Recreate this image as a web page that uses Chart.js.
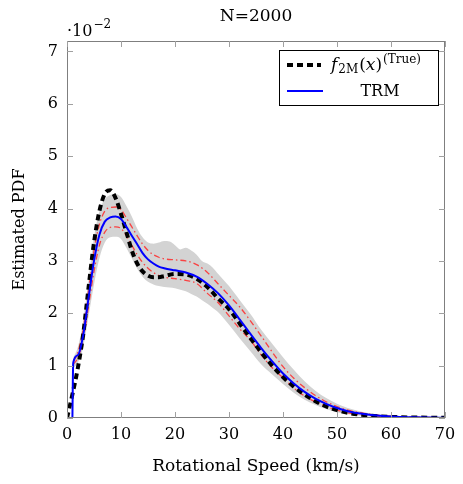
<!DOCTYPE html>
<html>
<head>
<meta charset="utf-8">
<script src="https://cdn.jsdelivr.net/npm/chart.js@4/dist/chart.umd.min.js"></script>
<style>
html,body{margin:0;padding:0;background:#fff;}
#wrap{width:463px;height:484px;}
</style>
</head>
<body>
<div id="wrap"><canvas id="c" width="463" height="484"></canvas></div>
<script>
// ---- Data (values in units of 10^-2) ----
const chartTitle = "N=2000";
const xTitle = "Rotational Speed (km/s)";
const yTitle = "Estimated PDF";
const xTicks = [0, 10, 20, 30, 40, 50, 60, 70];
const yTicks = [0, 1, 2, 3, 4, 5, 6, 7];

const xTrue = [0,1,2,3,4,5,6,7,8,9,10,11,12,13,14,15,16,17,18,20,22,24,26,28,30,32,34,36,38,40,42,44,46,48,50,52,55,58,61,64,67,70];
const yTrue = [0,0.45,0.95,1.6,2.5,3.35,3.95,4.28,4.35,4.2,3.9,3.55,3.2,2.95,2.8,2.72,2.69,2.69,2.71,2.75,2.74,2.66,2.5,2.28,2.08,1.8,1.52,1.25,1.0,0.78,0.6,0.45,0.32,0.22,0.15,0.1,0.055,0.03,0.017,0.01,0.006,0.004];

const xTRM = [1,1.15,2,3,4,5,6,7,8,9,10,11,12,13,14,15,16,17,18,20,22,24,26,28,30,32,34,36,38,40,42,44,46,48,50,52,55,58,61,64,67,70];
const yTRM = [0,1.05,1.2,1.58,2.3,3.0,3.5,3.75,3.83,3.85,3.8,3.65,3.48,3.32,3.15,3.03,2.95,2.89,2.86,2.82,2.78,2.7,2.56,2.38,2.15,1.88,1.6,1.33,1.08,0.85,0.66,0.5,0.37,0.27,0.19,0.13,0.075,0.042,0.024,0.014,0.009,0.006];

const xCI = [1.15,2,3,4,5,6,7,8,9,10,11,12,13,14,15,16,17,18,20,22,24,26,28,30,32,34,36,38,40,42,44,46,48,50,52,55,58,61,64,67,70];
const yCIUpper = [1.08,1.25,1.7,2.45,3.2,3.7,3.95,4.02,4.03,3.98,3.82,3.65,3.48,3.32,3.2,3.12,3.07,3.04,3.02,3.0,2.93,2.78,2.56,2.34,2.12,1.85,1.56,1.26,0.98,0.76,0.58,0.43,0.31,0.22,0.15,0.09,0.05,0.03,0.018,0.01,0.007];
const yCILower = [1.02,1.15,1.5,2.15,2.8,3.3,3.55,3.64,3.65,3.62,3.48,3.3,3.12,2.97,2.86,2.78,2.72,2.69,2.66,2.63,2.57,2.38,2.2,1.95,1.7,1.48,1.2,0.96,0.77,0.57,0.42,0.31,0.22,0.15,0.1,0.055,0.03,0.017,0.01,0.006,0.004];

const xBand = [1.15,2,3,4,5,6,7,8,9,10,11,12,13,14,15,16,17,18,19,20,21,22,23,24,25,26,27,28,30,32,34,36,38,40,42,44,46,48,50,52,55,58,61,64,67,70];
const yBandUpper = [1.15,1.35,1.85,2.65,3.45,3.95,4.18,4.26,4.28,4.22,4.05,3.85,3.62,3.45,3.35,3.33,3.35,3.38,3.37,3.3,3.22,3.25,3.2,3.12,3.0,2.95,2.87,2.75,2.52,2.25,1.98,1.68,1.42,1.16,0.92,0.7,0.52,0.38,0.27,0.19,0.11,0.06,0.035,0.02,0.012,0.008];
const yBandLower = [0.95,1.05,1.35,1.95,2.55,3.05,3.35,3.45,3.46,3.42,3.25,3.05,2.85,2.7,2.6,2.55,2.52,2.5,2.49,2.48,2.45,2.42,2.37,2.32,2.25,2.18,2.1,2.02,1.78,1.52,1.27,1.02,0.83,0.65,0.48,0.35,0.25,0.17,0.11,0.07,0.035,0.018,0.01,0.005,0.003,0.002];

const pts = (xs, ys) => xs.map((x, i) => ({x: x, y: ys[i]}));

const SERIF = "'DejaVu Serif', 'Liberation Serif', serif";

const decor = {
  id: 'decor',
  afterDraw(chart) {
    const ctx = chart.ctx;
    const a = chart.chartArea;
    const xs = chart.scales.x, ys = chart.scales.y;
    ctx.save();
    // frame
    ctx.strokeStyle = '#7f7f7f';
    ctx.lineWidth = 1;
    ctx.strokeRect(Math.round(a.left) + 0.5, Math.round(a.top) + 0.5, Math.round(a.right - a.left) - 1, Math.round(a.bottom - a.top) - 1);
    // inner ticks
    ctx.strokeStyle = '#a0a0a0';
    ctx.beginPath();
    xTicks.forEach(v => {
      const px = Math.round(xs.getPixelForValue(v)) + 0.5;
      ctx.moveTo(px, a.bottom); ctx.lineTo(px, a.bottom - 6);
      ctx.moveTo(px, a.top); ctx.lineTo(px, a.top + 6);
    });
    yTicks.forEach(v => {
      const py = Math.round(ys.getPixelForValue(v)) + 0.5;
      ctx.moveTo(a.left, py); ctx.lineTo(a.left + 6, py);
      ctx.moveTo(a.right, py); ctx.lineTo(a.right - 6, py);
    });
    ctx.stroke();

    ctx.fillStyle = '#000';
    // title
    ctx.font = '17px ' + SERIF;
    ctx.textAlign = 'center';
    ctx.textBaseline = 'alphabetic';
    ctx.fillText(chartTitle, (a.left + a.right) / 2, 21);
    // x title
    ctx.font = '17px ' + SERIF;
    ctx.fillText(xTitle, (a.left + a.right) / 2, 471);
    // y title
    ctx.save();
    ctx.translate(24, (a.top + a.bottom) / 2);
    ctx.rotate(-Math.PI / 2);
    ctx.font = '16px ' + SERIF;
    ctx.fillText(yTitle, 0, 0);
    ctx.restore();
    // exponent
    ctx.textAlign = 'left';
    ctx.font = '16px ' + SERIF;
    ctx.fillText('\u00B710', 67, 36);
    const w10 = ctx.measureText('\u00B710').width;
    ctx.font = '12px ' + SERIF;
    ctx.fillText('\u22122', 67 + w10 + 1, 28);

    // legend
    const L = {x: 279, y: 50, w: 159, h: 55};
    ctx.fillStyle = '#fff';
    ctx.fillRect(L.x, L.y, L.w, L.h);
    ctx.strokeStyle = '#000';
    ctx.lineWidth = 1;
    ctx.strokeRect(L.x + 0.5, L.y + 0.5, L.w, L.h);
    // black dashed sample
    ctx.beginPath();
    ctx.setLineDash([6, 4]);
    ctx.lineWidth = 4;
    ctx.strokeStyle = '#000';
    ctx.moveTo(287, 65); ctx.lineTo(321, 65);
    ctx.stroke();
    ctx.setLineDash([]);
    // blue sample
    ctx.beginPath();
    ctx.lineWidth = 2;
    ctx.strokeStyle = '#0000ff';
    ctx.moveTo(287, 91); ctx.lineTo(323, 91);
    ctx.stroke();
    // legend text 1: f_{2M}(x)^{(True)}
    ctx.fillStyle = '#000';
    let x = 331;
    const base = 70;
    ctx.font = 'italic 17px ' + SERIF;
    ctx.fillText('f', x, base); x += ctx.measureText('f').width + 1;
    ctx.font = '12px ' + SERIF;
    ctx.fillText('2M', x, base + 3); x += ctx.measureText('2M').width + 1;
    ctx.font = '17px ' + SERIF;
    ctx.fillText('(', x, base); x += ctx.measureText('(').width;
    ctx.font = 'italic 17px ' + SERIF;
    ctx.fillText('x', x, base); x += ctx.measureText('x').width;
    ctx.font = '17px ' + SERIF;
    ctx.fillText(')', x, base); x += ctx.measureText(')').width + 1;
    ctx.font = '12px ' + SERIF;
    ctx.fillText('(True)', x, base - 7);
    // legend text 2
    ctx.font = '16px ' + SERIF;
    ctx.textAlign = 'center';
    ctx.fillText('TRM', 380, 96);
    ctx.restore();
  }
};

new Chart(document.getElementById('c'), {
  type: 'line',
  data: {
    datasets: [
      {
        label: 'TRM', data: pts(xTRM, yTRM), order: 0,
        borderColor: '#0000ff', borderWidth: 2, pointRadius: 0,
        cubicInterpolationMode: 'monotone', fill: false
      },
      {
        label: 'True', data: pts(xTrue, yTrue), order: 1,
        borderColor: '#000000', borderWidth: 4, borderDash: [6, 4], borderCapStyle: 'butt',
        pointRadius: 0, cubicInterpolationMode: 'monotone', fill: false
      },
      {
        label: 'CI upper', data: pts(xCI, yCIUpper), order: 2,
        borderColor: 'rgba(255,40,40,0.85)', borderWidth: 1.3, borderDash: [6, 3, 1.5, 3],
        pointRadius: 0, cubicInterpolationMode: 'monotone', fill: false
      },
      {
        label: 'CI lower', data: pts(xCI, yCILower), order: 2,
        borderColor: 'rgba(255,40,40,0.85)', borderWidth: 1.3, borderDash: [6, 3, 1.5, 3],
        pointRadius: 0, cubicInterpolationMode: 'monotone', fill: false
      },
      {
        label: 'Band upper', data: pts(xBand, yBandUpper), order: 3,
        borderColor: 'rgba(0,0,0,0)', borderWidth: 0, backgroundColor: '#d3d3d3',
        pointRadius: 0, cubicInterpolationMode: 'monotone', fill: '+1'
      },
      {
        label: 'Band lower', data: pts(xBand, yBandLower), order: 4,
        borderColor: 'rgba(0,0,0,0)', borderWidth: 0,
        pointRadius: 0, cubicInterpolationMode: 'monotone', fill: false
      }
    ]
  },
  options: {
    responsive: false,
    animation: false,
    devicePixelRatio: 1,
    layout: {padding: {top: 41, right: 18, left: 0, bottom: 0}},
    plugins: {legend: {display: false}, tooltip: {enabled: false}, title: {display: false}},
    scales: {
      x: {
        type: 'linear', min: 0, max: 70,
        afterFit: s => { s.height = 66; },
        afterBuildTicks: s => { s.ticks = xTicks.map(v => ({value: v})); },
        grid: {display: false, drawTicks: false},
        border: {display: false},
        ticks: {padding: 7, color: '#000', font: {family: SERIF, size: 16}, maxRotation: 0}
      },
      y: {
        type: 'linear', min: 0, max: 7.2,
        afterFit: s => { s.width = 67; },
        afterBuildTicks: s => { s.ticks = yTicks.map(v => ({value: v})); },
        grid: {display: false, drawTicks: false},
        border: {display: false},
        ticks: {padding: 9, color: '#000', font: {family: SERIF, size: 16}}
      }
    }
  },
  plugins: [decor]
});
</script>
</body>
</html>
